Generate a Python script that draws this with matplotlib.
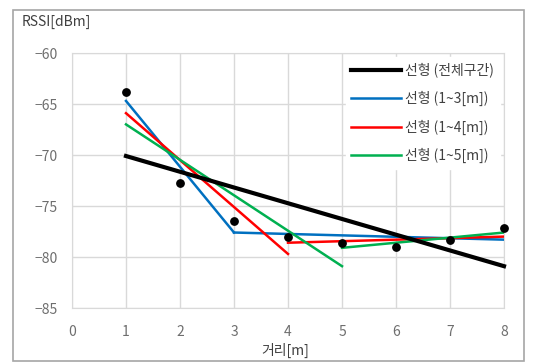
import matplotlib.pyplot as plt
import numpy as np

plt.rcParams['font.family'] = ['Noto Sans CJK KR', 'DejaVu Sans']

# 측정값
dist = [1, 2, 3, 4, 5, 6, 7, 8]
rssi = [-63.8, -72.7, -76.5, -78.0, -78.6, -79.0, -78.3, -77.2]

# 추세선 끝점 (x, y)
fit_all_x = [1, 8]
fit_all_y = [-70.1, -80.9]
fit3_x = [[1, 3], [3, 8]]
fit3_y = [[-64.7, -77.6], [-77.6, -78.3]]
fit4_x = [[1, 4], [4, 8]]
fit4_y = [[-65.9, -79.7], [-78.6, -78.0]]
fit5_x = [[1, 5], [5, 8]]
fit5_y = [[-67.0, -80.9], [-79.1, -77.6]]

labels = ['선형 (전체구간)', '선형 (1~3[m])', '선형 (1~4[m])', '선형 (1~5[m])']

fig = plt.figure(figsize=(5.35, 3.64), dpi=100, facecolor='white')
ax = fig.add_axes([72/535, 1-308/364, 432/535, 255/364])

gray = '#6e6e6e'
ax.scatter(dist, rssi, color='black', s=28, zorder=5, clip_on=False)
h0, = ax.plot(fit_all_x, fit_all_y, color='black', lw=3, zorder=4, clip_on=False)
h1 = h2 = h3 = None
for xs, ys in zip(fit3_x, fit3_y):
    h1, = ax.plot(xs, ys, color='#0070C0', lw=1.8, zorder=3)
for xs, ys in zip(fit4_x, fit4_y):
    h2, = ax.plot(xs, ys, color='#FF0000', lw=1.8, zorder=3)
for xs, ys in zip(fit5_x, fit5_y):
    h3, = ax.plot(xs, ys, color='#00B050', lw=1.8, zorder=3)

ax.set_xlim(0, 8)
ax.set_ylim(-85, -60)
ax.set_xticks(range(0, 9))
ax.set_yticks(range(-85, -59, 5))
ax.grid(True, color='#d9d9d9', lw=1)
ax.set_axisbelow(True)
for s in ax.spines.values():
    s.set_color('#d9d9d9')
ax.tick_params(length=0, colors=gray, labelsize=10)
ax.tick_params(axis='x', pad=12)
ax.tick_params(axis='y', pad=10)

leg = ax.legend([h0, h1, h2, h3], labels, loc='upper right', frameon=True,
                fontsize=10, handlelength=3.6, labelspacing=0.95,
                borderaxespad=0.3, handletextpad=0.3)
leg.get_frame().set_edgecolor('white')
leg.get_frame().set_facecolor('white')
leg.get_frame().set_alpha(1)
for t in leg.get_texts():
    t.set_color('#404040')

fig.text(22/535, 1-22/364, 'RSSI[dBm]', fontsize=10, color='#404040', va='center')
fig.text(285/535, 1-350/364, '거리[m]', fontsize=10, color='#404040', ha='center', va='center')

fig.patches.append(plt.Rectangle((0.024, 0.008), 0.955, 0.965, transform=fig.transFigure,
                                 fill=False, edgecolor='#a6a6a6', lw=1.2))

fig.savefig('out.png', dpi=100)
